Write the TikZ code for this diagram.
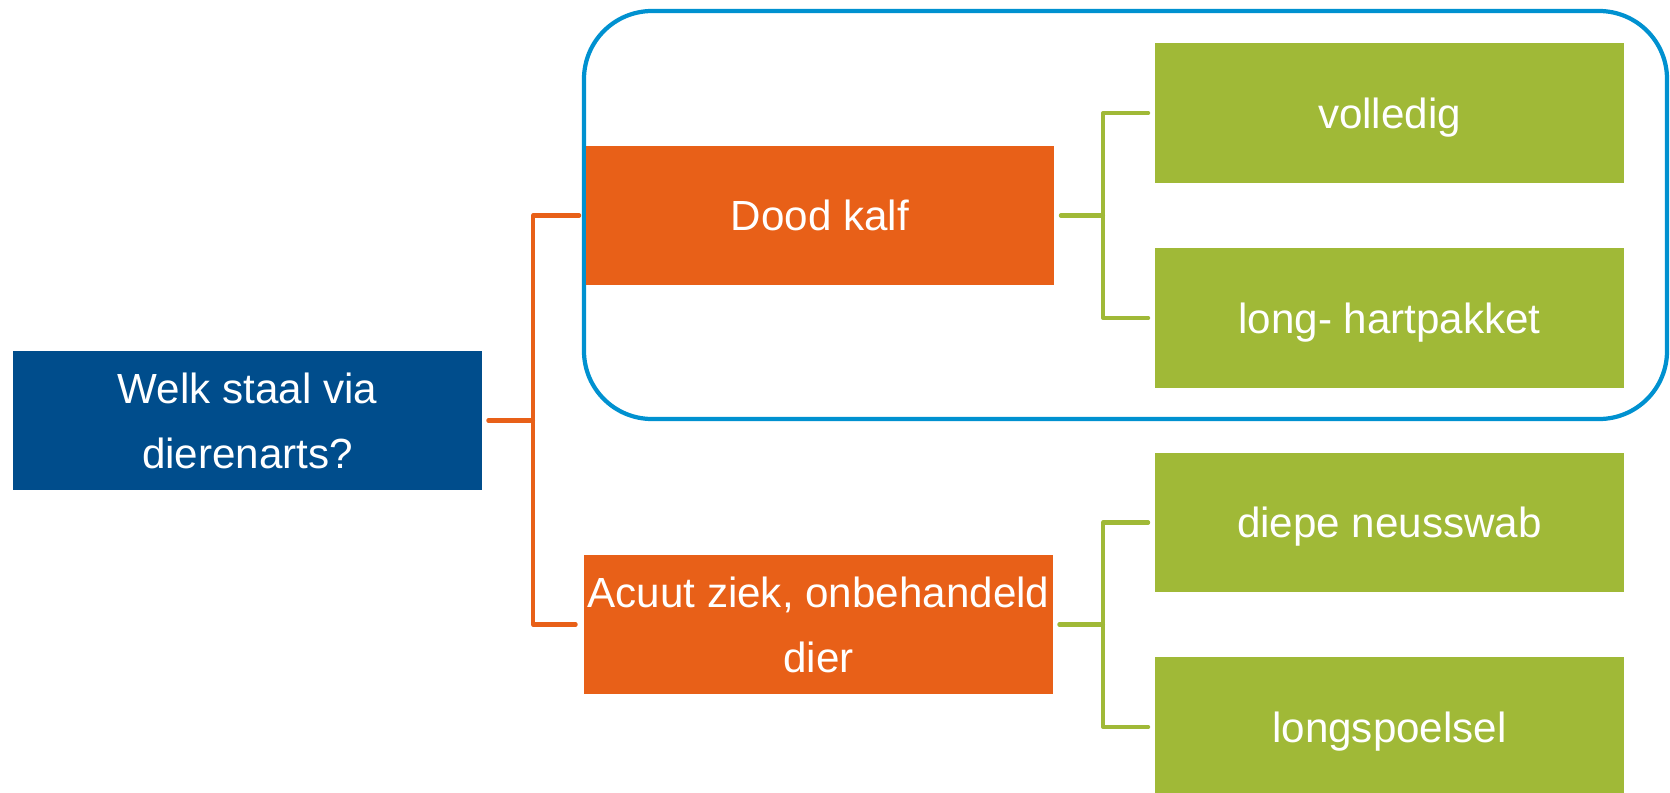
\documentclass[tikz,border=0pt]{standalone}
\usepackage{fontspec}
\setmainfont{Liberation Sans}
\usepackage{tikz}
\usetikzlibrary{arrows}

\definecolor{rootblue}{RGB}{0,77,140}
\definecolor{frameblue}{RGB}{0,145,208}
\definecolor{kalforange}{RGB}{232,96,24}
\definecolor{staalgreen}{RGB}{160,185,55}

\begin{document}
\begin{tikzpicture}[line cap=round,line join=round,x=0.02cm,y=-0.02cm,
        box/.style={rectangle, inner sep=0pt, text=white,
            font=\fontsize{24}{37}\selectfont, minimum width=9.38cm, minimum height=2.78cm},
        q/.style={box, align=center, fill=rootblue},
        case/.style={box, align=center, fill=kalforange},
        staal/.style={box, fill=staalgreen, minimum width=9.4cm, minimum height=2.8cm,
            text height=17.3pt, text depth=0pt},
        oline/.style={draw=kalforange, line width=2.3pt, shorten <=0.12cm, shorten >=0.16cm},
        gline/.style={draw=staalgreen, line width=2.3pt, shorten <=0.12cm, shorten >=0.12cm}]
                    \useasboundingbox (0,0) rectangle (1670,792);

                    % kader rond dood kalf
                    \draw [draw=frameblue, line width=2.4pt, rounded corners=1.36cm] (584,11) rectangle (1667,419);

                    \node[q] (root) at (247.5,420.5) {Welk staal via\\dierenarts?};

                    \node[case] (dood) at (820,215.5) {Dood kalf};
                    \node[case] (acuut) at (818.5,624.5) {Acuut ziek, onbehandeld\\dier};

                    \node[staal] (volledig) at (1389.5,113) {volledig};
                    \node[staal] (hart) at (1389.5,318) {long- hartpakket};
                    \node[staal] (neus) at (1389.5,522.5) {diepe neusswab};
                    \node[staal] (spoel) at (1389.5,727) {longspoelsel};

                    \coordinate (ob) at (533,420.5);
                    \coordinate (gb1) at (1103,215.5);
                    \coordinate (gb2) at (1103,624.5);

                    \draw [oline, shorten >=0pt] (root.east) -- (ob);
                    \draw [oline] (dood.west) -| (ob) |- (acuut.west);

                    \draw [gline, shorten >=0pt] (dood.east) -- (gb1);
                    \draw [gline] (volledig.west) -| (gb1) |- (hart.west);
                    \draw [gline, shorten >=0pt] (acuut.east) -- (gb2);
                    \draw [gline] (neus.west) -| (gb2) |- (spoel.west);
                \end{tikzpicture}
\end{document}
